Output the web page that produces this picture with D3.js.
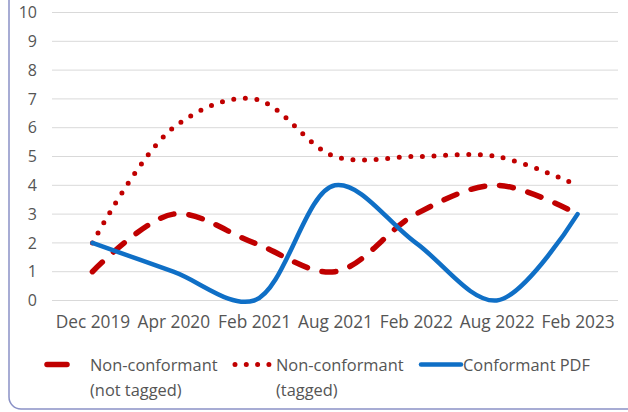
<!DOCTYPE html>
<html><head><meta charset="utf-8">
<script src="https://cdn.jsdelivr.net/npm/d3@7"></script>
<style>html,body{margin:0;padding:0;background:#fff;} svg{display:block;}</style>
</head><body>
<svg id="c" width="628" height="412"></svg>
<script>
const categories = ["Dec 2019","Apr 2020","Feb 2021","Aug 2021","Feb 2022","Aug 2022","Feb 2023"];
const notTagged = [1,3,2,1,3,4,3];
const tagged = [2,6,7,5,5,5,4];
const conformant = [2,1,0,4,2,0,3];
const yTicks = [0,1,2,3,4,5,6,7,8,9,10];
const seriesNames = [["Non-conformant","(not tagged)"],["Non-conformant","(tagged)"],["Conformant PDF"]];

const svg = d3.select("#c");
const font = "'Open Sans', sans-serif";
const textColor = "#555555";

// outer frame (partially visible)
svg.append("rect").attr("x",9).attr("y",-30).attr("width",660).attr("height",439)
  .attr("rx",12).attr("fill","none").attr("stroke","#8a91c6").attr("stroke-width",1.5);

const x = d3.scalePoint().domain(categories).range([52,618]).padding(0.5);
const y = d3.scaleLinear().domain([0,10]).range([300.5,12.5]);

// gridlines
svg.append("g").selectAll("line").data(yTicks).join("line")
  .attr("x1",52).attr("x2",618).attr("y1",d=>y(d)).attr("y2",d=>y(d))
  .attr("stroke","#d9d9d9").attr("stroke-width",1);

// y axis labels
const yAxis = d3.axisLeft(y).tickValues(yTicks).tickSize(0).tickPadding(0);
const gy = svg.append("g").attr("transform","translate(37,0)").call(yAxis);
gy.select(".domain").remove();
gy.selectAll("text").attr("font-family",font).attr("font-size",16).attr("fill",textColor);

// x axis labels
const xAxis = d3.axisBottom(x).tickSize(0).tickPadding(0);
const gx = svg.append("g").attr("transform","translate(0,316)").call(xAxis);
gx.select(".domain").remove();
gx.selectAll("text").attr("font-family",font).attr("font-size",17.3).attr("fill",textColor).attr("dy","0.71em");

const line = d3.line().x((d,i)=>x(categories[i])).y(d=>y(d)).curve(d3.curveCatmullRom.alpha(0.5));

const styles = [
  {data: notTagged, color:"#c00000", width:5.5, dash:"14,15", cap:"round"},
  {data: tagged, color:"#c00000", width:5, dash:"0,11.6", cap:"round"},
  {data: conformant, color:"#0f6fc6", width:4.5, dash:null, cap:"round"}
];
styles.forEach(s=>{
  svg.append("path").attr("d",line(s.data)).attr("fill","none")
    .attr("stroke",s.color).attr("stroke-width",s.width)
    .attr("stroke-dasharray",s.dash).attr("stroke-linecap",s.cap).attr("stroke-linejoin","round");
});

// legend
const legendItems = [
  {s:styles[0], x1:47, x2:88, tx:90, dash:"20,40"},
  {s:styles[1], x1:235, x2:273, tx:276, dash:"0,11.3"},
  {s:styles[2], x1:421, x2:461, tx:463, dash:null}
];
legendItems.forEach((it,i)=>{
  const ly = 364.5;
  svg.append("line").attr("x1",it.x1).attr("x2",it.x2).attr("y1",ly).attr("y2",ly)
    .attr("stroke",it.s.color).attr("stroke-width",it.s.width)
    .attr("stroke-dasharray", it.dash).attr("stroke-linecap","round");
  const t = svg.append("text").attr("font-family",font).attr("font-size",16.4).attr("fill",textColor);
  seriesNames[i].forEach((ln,k)=>{
    t.append("tspan").attr("x",it.tx).attr("y",370.5 + k*25).text(ln);
  });
});
</script>
</body></html>
